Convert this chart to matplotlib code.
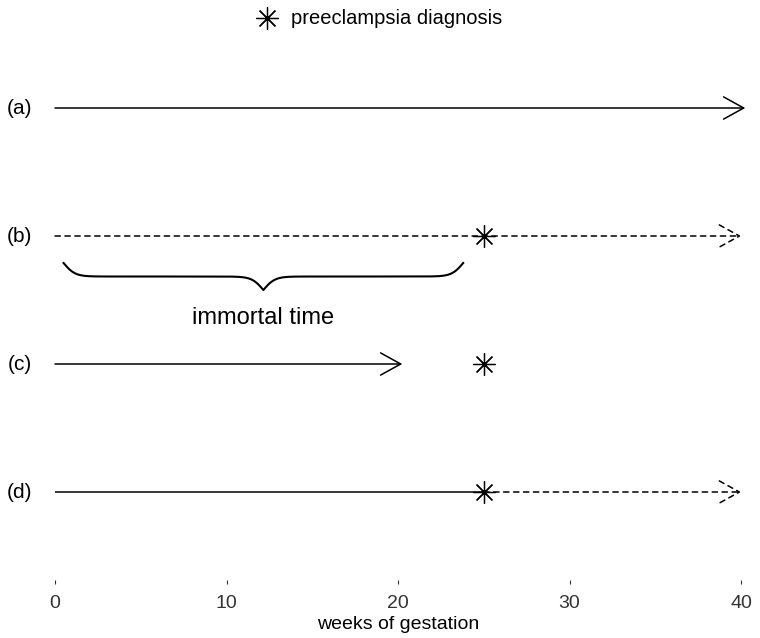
import numpy as np
import matplotlib
matplotlib.use('Agg')
import matplotlib.pyplot as plt

plt.rcParams['font.family'] = ['Liberation Sans', 'DejaVu Sans']

# rows of the timeline diagram (top to bottom)
row_labels = ['(a)', '(b)', '(c)', '(d)']
row_y = [4, 3, 2, 1]
solid_end = [40, 0, 20, 25]        # end of solid follow-up segment
dashed_end = [None, 40, None, 40]  # end of dashed (unobserved) arrow
diagnosis_week = [None, 25, 25, 25]
immortal_span = (0.5, 23.8)
x_ticks = [0, 10, 20, 30, 40]

fig = plt.figure(figsize=(7.6, 6.38), dpi=100)
ax = fig.add_axes([55 / 760, 58 / 638, (741 - 55) / 760, 580 / 638])
ax.set_xlim(0, 40)
ax.set_ylim(0.3125, 4.84375)

arrow_kw = dict(arrowstyle='->,head_length=1.45,head_width=0.8', color='black',
                lw=1.1, shrinkA=0, shrinkB=0)

for lab, y, se, de, dg in zip(row_labels, row_y, solid_end, dashed_end, diagnosis_week):
    ax.text(-2.05, y, lab, fontsize=15, ha='center', va='center')
    if de is None:
        ax.annotate('', xy=(se + 0.25, y), xytext=(0, y), arrowprops=arrow_kw,
                    annotation_clip=False)
    else:
        start = 0
        if se > 0:
            ax.plot([0, se], [y, y], color='black', lw=1.1)
            start = se
        ax.annotate('', xy=(de, y), xytext=(start, y), annotation_clip=False,
                    arrowprops=dict(arrow_kw, linestyle=(0, (3.5, 3))))
    if dg is not None:
        ax.plot(dg, y, marker=(8, 2, 0), markersize=16, color='black', mew=0.9)

# legend
ax.plot(12.35, 4.70, marker=(8, 2, 0), markersize=16, color='black', mew=0.9, clip_on=False)
ax.text(13.75, 4.70, 'preeclampsia diagnosis', fontsize=14.5, ha='left', va='center')

# curly brace for immortal time
x0, x1 = immortal_span
x = np.linspace(x0, x1, 401)
half = x[:201]
beta = 3.0
yb = 1 / (1 + np.exp(-beta * (half - half[0]))) + 1 / (1 + np.exp(-beta * (half - half[-1])))
yb = np.concatenate((yb, yb[-2::-1]))
yy = 2.789 + 0.5 * 0.211
ax.plot(x, yy - 0.211 * yb, color='black', lw=1.5)
ax.text((x0 + x1) / 2, 2.36, 'immortal time', fontsize=17, ha='center', va='center')

ax.set_xticks(x_ticks)
ax.set_yticks([])
ax.tick_params(axis='x', length=3, width=0.8, pad=8, labelsize=14, colors='#333333')
ax.set_xlabel('weeks of gestation', fontsize=14, labelpad=3)
for s in ax.spines.values():
    s.set_visible(False)

fig.savefig('out.png', dpi=100)
